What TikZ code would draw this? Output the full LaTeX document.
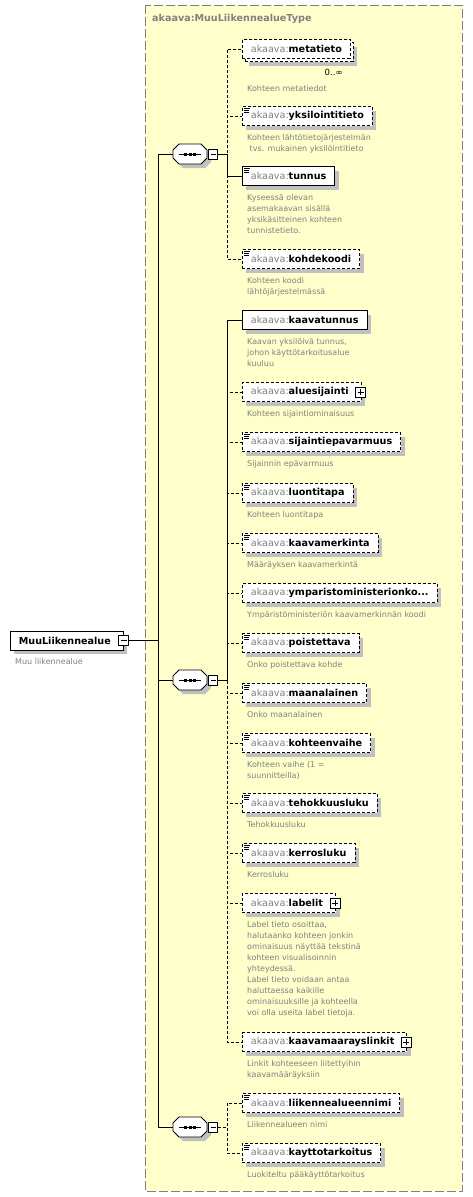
\documentclass[tikz,border=0pt]{standalone}
\usepackage{fontspec}
\setmainfont{DejaVu Sans}
\usetikzlibrary{positioning, shadows}
\definecolor{typeYellow}{RGB}{255,255,204}
\definecolor{frameGray}{RGB}{128,128,128}
\definecolor{nsGray}{RGB}{128,128,128}
\definecolor{descGray}{RGB}{128,128,128}
\definecolor{shadowGray}{RGB}{192,192,192}
\newcommand\ns{{\mdseries\color{nsGray}akaava:}}
% small "documentation" mark in the top left corner of a box
\newcommand\docmark[1]{%
  \draw[line width=0.6pt] ([shift={(2,2)}]#1.north west) -- ++(6,0)
    ([shift={(2,4)}]#1.north west) -- ++(5,0)
    ([shift={(2,6)}]#1.north west) -- ++(5,0);}
% octagon of a sequence compositor, with its line of three dots
\newcommand\seqmark[1]{%
  \fill[shadowGray] ([shift={(4,4)}]#1.center) +(-17,-4) -- +(-11,-10) -- +(11,-10)
    -- +(17,-4) -- +(17,4) -- +(11,10) -- +(-11,10) -- +(-17,4) -- cycle;
  \filldraw[fill=white, line width=0.8pt] (#1.center) +(-17,-4) -- +(-11,-10) -- +(11,-10)
    -- +(17,-4) -- +(17,4) -- +(11,10) -- +(-11,10) -- +(-17,4) -- cycle;
  \draw[line width=0.8pt] ([xshift=-11pt]#1.center) -- ([xshift=11pt]#1.center);
  \foreach \dx in {-4.5,0,4.5}
    \fill ([xshift=\dx pt]#1.center) ++(-1.5,-1.5) rectangle ++(3,3);}

\begin{document}
\begin{tikzpicture}[x=1pt, y=-1pt,
elem/.style={rectangle, draw=black, fill=white, line width=0.8pt,
  inner xsep=8.5pt, inner ysep=0pt, minimum height=19pt, anchor=west,
  font=\fontsize{9.6}{11}\selectfont\bfseries},
shadowed/.style={drop shadow={shadow xshift=4pt, shadow yshift=-4pt,
  fill=shadowGray, opacity=1}},
reqbox/.style={elem, shadowed},
optbox/.style={elem, shadowed, dash pattern=on 3pt off 2pt},
withplus/.style={execute at end node=\hspace*{4pt}},
desc/.style={font=\fontsize{8}{11}\selectfont, text=descGray, align=left, inner sep=0pt},
seqbox/.style={rectangle, minimum width=34pt, minimum height=20pt, inner sep=0pt},
minusbox/.style={rectangle, draw=black, fill=white, line width=0.7pt,
  minimum width=10pt, minimum height=10pt, inner sep=0pt,
  path picture={\draw[line width=0.7pt] ([xshift=2pt]path picture bounding box.west)
    -- ([xshift=-2pt]path picture bounding box.east);}},
plusbox/.style={rectangle, draw=black, fill=white, line width=0.7pt,
  minimum width=10pt, minimum height=10pt, inner sep=0pt,
  path picture={\draw[line width=0.7pt] ([xshift=2pt]path picture bounding box.west)
    -- ([xshift=-2pt]path picture bounding box.east)
    ([yshift=2pt]path picture bounding box.south)
    -- ([yshift=-2pt]path picture bounding box.north);}},
link/.style={line width=0.8pt},
optlink/.style={link, dash pattern=on 3pt off 2pt}]

\useasboundingbox (0,0) rectangle (472,1197);
\fill[white] (0,0) rectangle (472,1197);

% complex type frame
\draw[fill=typeYellow, draw=frameGray, line width=0.9pt, dash pattern=on 9pt off 3pt]
  (145,5) rectangle (462,1191);
\node[anchor=west, inner sep=0pt, text=frameGray, font=\fontsize{9.6}{11}\selectfont\bfseries]
  (typeName) at (152,19) {akaava:MuuLiikennealueType};

% root element
\node[reqbox, withplus] (root) at (10,640.5) {MuuLiikennealue};
\node[minusbox] (rootMinus) at (root.east) {};
\node[desc, below right=8pt and 5pt of root.south west] (rootTxt) {Muu liikennealue};

% sequences
\coordinate (trunk) at (158,0);
\coordinate (bus) at (227,0);
\node[seqbox] (seqA) at (190,154) {};
\node[seqbox] (seqB) at (190,680) {};
\node[seqbox] (seqC) at (190,1127) {};
\seqmark{seqA}
\seqmark{seqB}
\seqmark{seqC}
\node[minusbox, minimum width=9pt, right=1pt of seqA] (seqAMinus) {};
\node[minusbox, minimum width=9pt, right=1pt of seqB] (seqBMinus) {};
\node[minusbox, minimum width=9pt, right=1pt of seqC] (seqCMinus) {};

% first sequence
\node[optbox, anchor=west] (metatietoBack) at (245,52) {\phantom{\ns metatieto}};
\node[elem, dash pattern=on 3pt off 2pt] (metatieto) at (242,49) {\ns metatieto};
\node[inner sep=0pt, font=\fontsize{8.5}{10}\selectfont,
  below left=10pt and 8pt of metatieto.south east] (metatietoMult) {0..∞};
\node[desc, below right=26pt and 5pt of metatieto.south west] (metatietoTxt)
  {Kohteen metatiedot};
\node[optbox] (yksilointitieto) at (242,116) {\ns yksilointitieto};
\node[desc, below right=8pt and 5pt of yksilointitieto.south west] (yksilointitietoTxt)
  {Kohteen lähtötietojärjestelmän\\\ tvs. mukainen yksilöintitieto};
\node[reqbox] (tunnus) at (242,176) {\ns tunnus};
\node[desc, below right=8pt and 5pt of tunnus.south west] (tunnusTxt)
  {Kyseessä olevan\\asemakaavan sisällä\\yksikäsitteinen kohteen\\tunnistetieto.};
\node[optbox] (kohdekoodi) at (242,259) {\ns kohdekoodi};
\node[desc, below right=8pt and 5pt of kohdekoodi.south west] (kohdekoodiTxt)
  {Kohteen koodi\\lähtöjärjestelmässä};

% second sequence
\node[reqbox] (kaavatunnus) at (242,320) {\ns kaavatunnus};
\node[desc, below right=8pt and 5pt of kaavatunnus.south west] (kaavatunnusTxt)
  {Kaavan yksilöivä tunnus,\\johon käyttötarkoitusalue\\kuuluu};
\node[optbox, withplus] (aluesijainti) at (242,392) {\ns aluesijainti};
\node[plusbox] (aluesijaintiPlus) at ([xshift=-1pt]aluesijainti.east) {};
\node[desc, below right=8pt and 5pt of aluesijainti.south west] (aluesijaintiTxt)
  {Kohteen sijaintiominaisuus};
\node[optbox] (sijaintiepavarmuus) at (242,442) {\ns sijaintiepavarmuus};
\node[desc, below right=8pt and 5pt of sijaintiepavarmuus.south west] (sijaintiepavarmuusTxt)
  {Sijainnin epävarmuus};
\node[optbox] (luontitapa) at (242,493) {\ns luontitapa};
\node[desc, below right=8pt and 5pt of luontitapa.south west] (luontitapaTxt)
  {Kohteen luontitapa};
\node[optbox] (kaavamerkinta) at (242,543) {\ns kaavamerkinta};
\node[desc, below right=8pt and 5pt of kaavamerkinta.south west] (kaavamerkintaTxt)
  {Määräyksen kaavamerkintä};
\node[optbox] (ymparisto) at (242,593) {\ns ymparistoministerionko...};
\node[desc, below right=8pt and 5pt of ymparisto.south west] (ymparistoTxt)
  {Ympäristöministeriön kaavamerkinnän koodi};
\node[optbox] (poistettava) at (242,643) {\ns poistettava};
\node[desc, below right=8pt and 5pt of poistettava.south west] (poistettavaTxt)
  {Onko poistettava kohde};
\node[optbox] (maanalainen) at (242,693) {\ns maanalainen};
\node[desc, below right=8pt and 5pt of maanalainen.south west] (maanalainenTxt)
  {Onko maanalainen};
\node[optbox] (kohteenvaihe) at (242,743) {\ns kohteenvaihe};
\node[desc, below right=8pt and 5pt of kohteenvaihe.south west] (kohteenvaiheTxt)
  {Kohteen vaihe (1 =\\suunnitteilla)};
\node[optbox] (tehokkuusluku) at (242,803) {\ns tehokkuusluku};
\node[desc, below right=8pt and 5pt of tehokkuusluku.south west] (tehokkuuslukuTxt)
  {Tehokkuusluku};
\node[optbox] (kerrosluku) at (242,853) {\ns kerrosluku};
\node[desc, below right=8pt and 5pt of kerrosluku.south west] (kerroslukuTxt)
  {Kerrosluku};
\node[optbox, withplus] (labelit) at (242,903) {\ns labelit};
\node[plusbox] (labelitPlus) at ([xshift=-1pt]labelit.east) {};
\node[desc, below right=8pt and 5pt of labelit.south west] (labelitTxt)
  {Label tieto osoittaa,\\halutaanko kohteen jonkin\\ominaisuus näyttää tekstinä\\kohteen visualisoinnin\\yhteydessä.\\Label tieto voidaan antaa\\haluttaessa kaikille\\ominaisuuksille ja kohteella\\voi olla useita label tietoja.};
\node[optbox, withplus] (kaavamaarayslinkit) at (242,1042) {\ns kaavamaarayslinkit};
\node[plusbox] (kaavamaarayslinkitPlus) at ([xshift=-1pt]kaavamaarayslinkit.east) {};
\node[desc, below right=8pt and 5pt of kaavamaarayslinkit.south west] (kaavamaarayslinkitTxt)
  {Linkit kohteeseen liitettyihin\\kaavamääräyksiin};

% third sequence
\node[optbox] (liikennealueennimi) at (242,1103) {\ns liikennealueennimi};
\node[desc, below right=8pt and 5pt of liikennealueennimi.south west] (liikennealueennimiTxt)
  {Liikennealueen nimi};
\node[optbox] (kayttotarkoitus) at (242,1153) {\ns kayttotarkoitus};
\node[desc, below right=8pt and 5pt of kayttotarkoitus.south west] (kayttotarkoitusTxt)
  {Luokiteltu pääkäyttötarkoitus};

\docmark{yksilointitieto}
\docmark{tunnus}
\docmark{kohdekoodi}
\docmark{sijaintiepavarmuus}
\docmark{luontitapa}
\docmark{kaavamerkinta}
\docmark{poistettava}
\docmark{maanalainen}
\docmark{kohteenvaihe}
\docmark{tehokkuusluku}
\docmark{kerrosluku}
\docmark{liikennealueennimi}
\docmark{kayttotarkoitus}

% trunk
\draw[link] (rootMinus.east) -- (rootMinus.east -| trunk);
\draw[link] (seqA.west) -- (seqA.west -| trunk) -- (seqC.west -| trunk) -- (seqC.west);
\draw[link] (seqB.west) -- (seqB.west -| trunk);

% connectors of the first sequence
\draw[optlink] (seqAMinus.east) -- (seqAMinus.east -| bus) |- (metatieto.west);
\draw[optlink] (seqAMinus.east) -- (seqAMinus.east -| bus) |- (yksilointitieto.west);
\draw[link] (seqAMinus.east) -- (seqAMinus.east -| bus) |- (tunnus.west);
\draw[optlink] (seqAMinus.east) -- (seqAMinus.east -| bus) |- (kohdekoodi.west);

% connectors of the second sequence
\draw[link] (seqBMinus.east) -- (seqBMinus.east -| bus) |- (kaavatunnus.west);
\draw[optlink] (seqBMinus.east) -- (seqBMinus.east -| bus) |- (aluesijainti.west);
\draw[optlink] (seqBMinus.east) -- (seqBMinus.east -| bus) |- (sijaintiepavarmuus.west);
\draw[optlink] (seqBMinus.east) -- (seqBMinus.east -| bus) |- (luontitapa.west);
\draw[optlink] (seqBMinus.east) -- (seqBMinus.east -| bus) |- (kaavamerkinta.west);
\draw[optlink] (seqBMinus.east) -- (seqBMinus.east -| bus) |- (ymparisto.west);
\draw[optlink] (seqBMinus.east) -- (seqBMinus.east -| bus) |- (poistettava.west);
\draw[optlink] (seqBMinus.east) -- (seqBMinus.east -| bus) |- (maanalainen.west);
\draw[optlink] (seqBMinus.east) -- (seqBMinus.east -| bus) |- (kohteenvaihe.west);
\draw[optlink] (seqBMinus.east) -- (seqBMinus.east -| bus) |- (tehokkuusluku.west);
\draw[optlink] (seqBMinus.east) -- (seqBMinus.east -| bus) |- (kerrosluku.west);
\draw[optlink] (seqBMinus.east) -- (seqBMinus.east -| bus) |- (labelit.west);
\draw[optlink] (seqBMinus.east) -- (seqBMinus.east -| bus) |- (kaavamaarayslinkit.west);

% connectors of the third sequence
\draw[optlink] (seqCMinus.east) -- (seqCMinus.east -| bus) |- (liikennealueennimi.west);
\draw[optlink] (seqCMinus.east) -- (seqCMinus.east -| bus) |- (kayttotarkoitus.west);
\end{tikzpicture}
\end{document}
